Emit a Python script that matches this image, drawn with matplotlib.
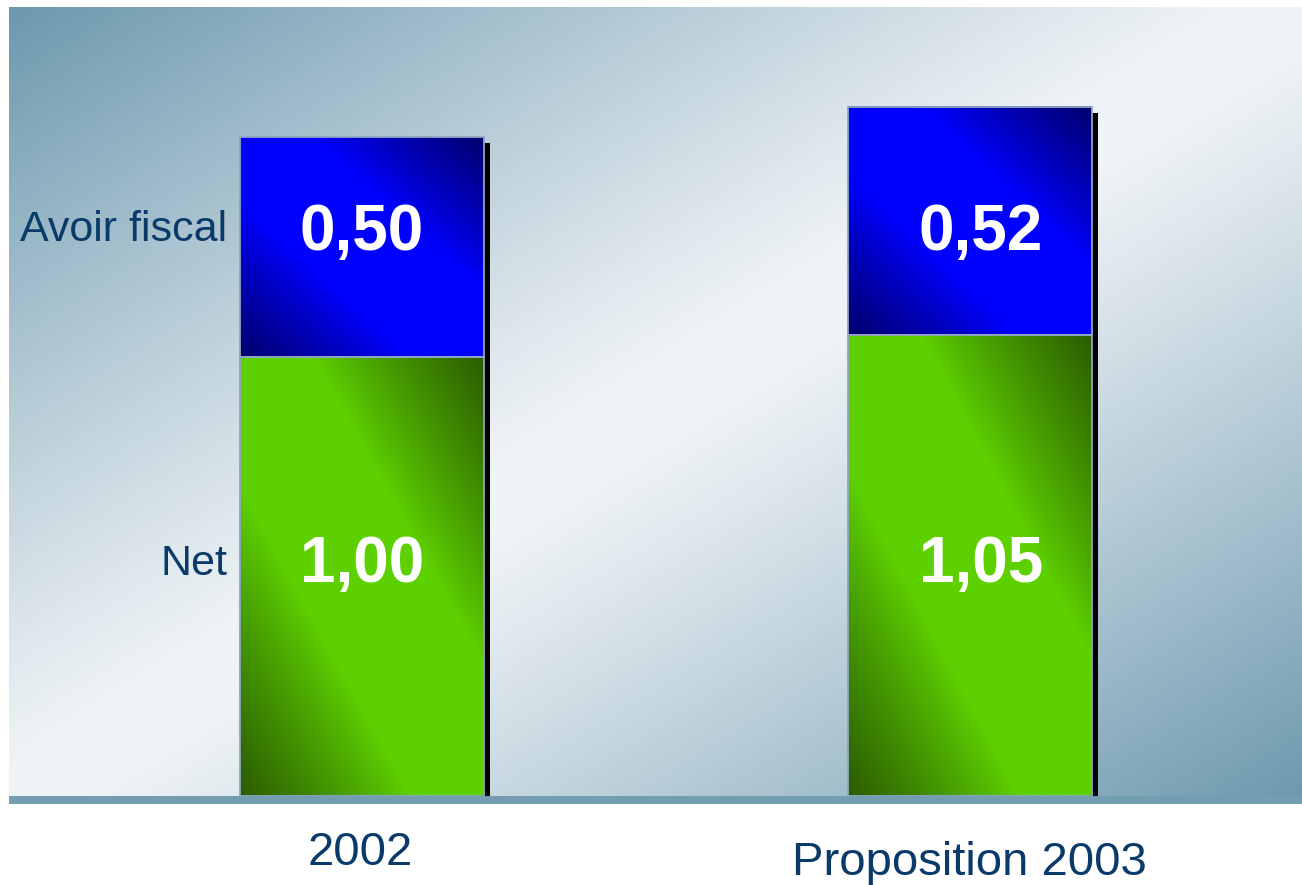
import numpy as np
import matplotlib.pyplot as plt
from matplotlib import patheffects
from matplotlib.colors import to_rgb

# data
categories = ['2002', 'Proposition 2003']
series_names = ['Net', 'Avoir fiscal']
net = [1.00, 1.05]
avoir = [0.50, 0.52]
net_labels = ['1,00', '1,05']
avoir_labels = ['0,50', '0,52']

plt.rcParams['font.family'] = ['Liberation Sans', 'DejaVu Sans']
TXT = '#0a3a69'


def diag_fill(bright, dark, anti=False, n=200, start=0.0, power=1.0):
    # diagonal two-tone gradient like the old powerpoint fills
    u = np.linspace(0, 1, n)[None, :]
    w = np.linspace(1, 0, n)[:, None]
    d = np.abs(u - w) if anti else np.abs(u + w - 1)
    t = np.clip((d - start) / (1 - start), 0, 1) ** power
    t = t[..., None]
    return np.array(to_rgb(bright)) * (1 - t) + np.array(to_rgb(dark)) * t


fig = plt.figure(figsize=(13.02, 8.85), dpi=100)
ax = fig.add_axes([9 / 1302, (885 - 804) / 885, (1302 - 9) / 1302, (804 - 7) / 885])

xlim = (-0.580, 1.545)
ylim = (-0.0182, 1.797)

# background
ax.imshow(diag_fill('#eef3f6', '#6c98ad', anti=True, n=400, start=0.05, power=1.1),
          extent=(xlim[0], xlim[1], ylim[0], ylim[1]), aspect='auto', zorder=0)

x = np.arange(len(categories))
width = 0.401

# drop shadow behind each full bar
ax.bar(x, np.add(net, avoir), width, color='black', zorder=2,
       path_effects=[patheffects.SimplePatchShadow(offset=(4.3, -4.3), shadow_rgbFace='black', alpha=1.0),
                     patheffects.Normal()])

edge = '#8ea6c0'
b_net = ax.bar(x, net, width, facecolor='none', edgecolor=edge, lw=1.3, zorder=4)
b_avoir = ax.bar(x, avoir, width, bottom=net, facecolor='none', edgecolor=edge, lw=1.3, zorder=4)

green = diag_fill('#5dd000', '#2b5c00', start=0.3, power=0.9)
blue = diag_fill('#0000ff', '#00006e', start=0.3, power=0.9)
for bars, img in [(b_net, green), (b_avoir, blue)]:
    for p in bars:
        ax.imshow(img, extent=(p.get_x(), p.get_x() + p.get_width(),
                               p.get_y(), p.get_y() + p.get_height()),
                  aspect='auto', zorder=3)

# baseline
ax.axhline(-0.0091, color='#739db1', lw=5.8, zorder=5, clip_on=False, solid_capstyle='butt')

# value labels
label_dx = [0.0, 0.017]
for i in range(len(categories)):
    ax.text(x[i] + label_dx[i], 0.487, net_labels[i], ha='center', va='baseline',
            color='white', fontsize=46, fontweight='bold', zorder=6)
    ax.text(x[i] + label_dx[i], 1.244, avoir_labels[i], ha='center', va='baseline',
            color='white', fontsize=46, fontweight='bold', zorder=6)

# row labels on the left
for name, yy in zip(series_names, [0.503, 1.264]):
    ax.text(-0.221, yy, name, ha='right', va='baseline', color=TXT, fontsize=31, zorder=6)

# category labels under the axis
cat_y = [-0.157, -0.180]
for i, c in enumerate(categories):
    ax.text(x[i] - 0.003 + label_dx[i] * 0.1, cat_y[i], c, ha='center', va='baseline',
            color=TXT, fontsize=34, clip_on=False)

ax.set_xlim(*xlim)
ax.set_ylim(*ylim)
ax.axis('off')

fig.savefig('out.png', dpi=100)
